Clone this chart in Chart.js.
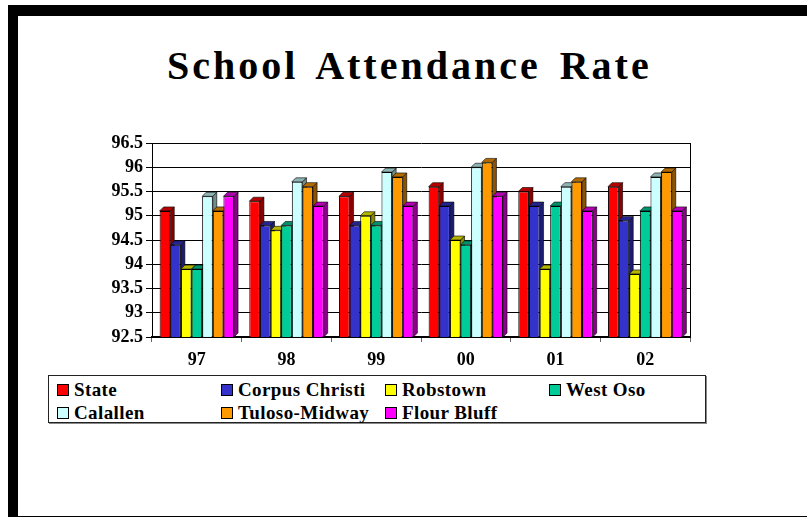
<!DOCTYPE html>
<html>
<head>
<meta charset="utf-8">
<script src="https://cdn.jsdelivr.net/npm/chart.js@4"></script>
<style>
  html, body { margin: 0; padding: 0; background: #fff; }
  body { width: 807px; height: 517px; position: relative; overflow: hidden; font-family: "Liberation Serif", "Times New Roman", serif; }
  #frame { position: absolute; left: 8px; top: 5px; width: 820px; height: 500px; border-top: 11px solid #000; border-left: 10px solid #000; border-bottom: 6px solid #000; }
  #title { position: absolute; left: 167px; top: 46px; font-size: 40px; font-weight: bold; line-height: 40px; letter-spacing: 3px; word-spacing: 6px; white-space: nowrap; color: #000; }
  #chart { position: absolute; left: 0; top: 0; }
  #legend { position: absolute; left: 48px; top: 375px; width: 658px; height: 48px; border: 1px solid #222; box-shadow: 1px 1px 0 #888; background: #fff;
            display: grid; grid-template-columns: repeat(4, 164px); grid-auto-rows: 23px; padding: 2px 0 0 8px; box-sizing: border-box; }
  .item { display: flex; align-items: center; font-size: 19px; font-weight: bold; letter-spacing: 0.4px; white-space: nowrap; }
  .sw { width: 10px; height: 10px; border: 1px solid #000; margin-right: 5px; flex: none; }
</style>
</head>
<body>
<div id="frame"></div>
<div id="title">School Attendance Rate</div>
<canvas id="chart" width="807" height="375"></canvas>
<div id="legend"></div>
<script>
const categories = ['97', '98', '99', '00', '01', '02'];
const seriesNames = ['State', 'Corpus Christi', 'Robstown', 'West Oso', 'Calallen', 'Tuloso-Midway', 'Flour Bluff'];
const seriesColors = ['#FF0000', '#3333CC', '#FFFF00', '#00CC99', '#CCFFFF', '#FF9900', '#FF00FF'];

const state    = [95.1, 95.3, 95.4, 95.6, 95.5, 95.6];
const corpus   = [94.4, 94.8, 94.8, 95.2, 95.2, 94.9];
const robstown = [93.9, 94.7, 95.0, 94.5, 93.9, 93.8];
const westOso  = [93.9, 94.8, 94.8, 94.4, 95.2, 95.1];
const calallen = [95.4, 95.7, 95.9, 96.0, 95.6, 95.8];
const tuloso   = [95.1, 95.6, 95.8, 96.1, 95.7, 95.9];
const flour    = [95.4, 95.2, 95.2, 95.4, 95.1, 95.1];
const seriesValues = [state, corpus, robstown, westOso, calallen, tuloso, flour];

const Y_MIN = 92.5, Y_MAX = 96.5, Y_STEP = 0.5;
const FONT = '"Liberation Serif", "Times New Roman", serif';

function shade(hex, f) {
  const n = parseInt(hex.slice(1), 16);
  const r = Math.round(((n >> 16) & 255) * f);
  const g = Math.round(((n >> 8) & 255) * f);
  const b = Math.round((n & 255) * f);
  return `rgb(${r}, ${g}, ${b})`;
}

// fake 3D depth: top and side faces drawn behind each bar's front face
const DEPTH = 4;
const bar3d = {
  id: 'bar3d',
  beforeDatasetsDraw(chart) {
    const c = chart.ctx;
    const bottom = chart.chartArea.bottom;
    c.save();
    c.lineWidth = 0.6;
    c.strokeStyle = '#000';
    chart.data.datasets.forEach((ds, i) => {
      const meta = chart.getDatasetMeta(i);
      meta.data.forEach(el => {
        const { x, y, width } = el.getProps(['x', 'y', 'width'], true);
        const l = x - width / 2, r = x + width / 2;
        c.fillStyle = shade(ds.backgroundColor, 0.55);
        c.beginPath();
        c.moveTo(r, y); c.lineTo(r + DEPTH, y - DEPTH); c.lineTo(r + DEPTH, bottom - DEPTH); c.lineTo(r, bottom);
        c.closePath(); c.fill(); c.stroke();
        c.fillStyle = shade(ds.backgroundColor, 0.7);
        c.beginPath();
        c.moveTo(l, y); c.lineTo(l + DEPTH, y - DEPTH); c.lineTo(r + DEPTH, y - DEPTH); c.lineTo(r, y);
        c.closePath(); c.fill(); c.stroke();
      });
    });
    c.restore();
  }
};

const datasets = seriesNames.map((name, i) => ({
  label: name,
  data: seriesValues[i],
  backgroundColor: seriesColors[i],
  borderColor: '#000',
  borderWidth: 1,
  categoryPercentage: 0.83,
  barPercentage: 1.0
}));

new Chart(document.getElementById('chart').getContext('2d'), {
  type: 'bar',
  data: { labels: categories, datasets },
  plugins: [bar3d],
  options: {
    responsive: false,
    animation: false,
    devicePixelRatio: 1,
    layout: { padding: { top: 143, right: 117, left: 0, bottom: 0 } },
    plugins: { legend: { display: false }, title: { display: false }, tooltip: { enabled: false } },
    scales: {
      x: {
        afterFit: s => { s.height = 38; },
        grid: { offset: true, drawOnChartArea: false, drawTicks: true, tickLength: 5, color: '#666' },
        border: { display: true, color: '#000', width: 2 },
        ticks: { color: '#000', padding: 8, font: { family: FONT, size: 18, weight: 'bold' } }
      },
      y: {
        min: Y_MIN, max: Y_MAX,
        afterFit: s => { s.width = 152; },
        grid: { color: '#000', lineWidth: 1, drawTicks: true, tickLength: 6 },
        border: { display: true, color: '#000', width: 1 },
        ticks: { stepSize: Y_STEP, autoSkip: false, color: '#000', padding: 3, callback: v => String(v),
                 font: { family: FONT, size: 18, weight: 'bold' } }
      },
      y2: {
        position: 'right',
        min: Y_MIN, max: Y_MAX,
        grid: { drawOnChartArea: false, drawTicks: false },
        border: { display: true, color: '#000', width: 1 },
        ticks: { display: false }
      }
    }
  }
});

// legend in a fixed four-column grid, like the original
const legendEl = document.getElementById('legend');
legendEl.innerHTML = seriesNames.map((name, i) =>
  `<div class="item"><span class="sw" style="background:${seriesColors[i]}"></span>${name}</div>`
).join('');
</script>
</body>
</html>
